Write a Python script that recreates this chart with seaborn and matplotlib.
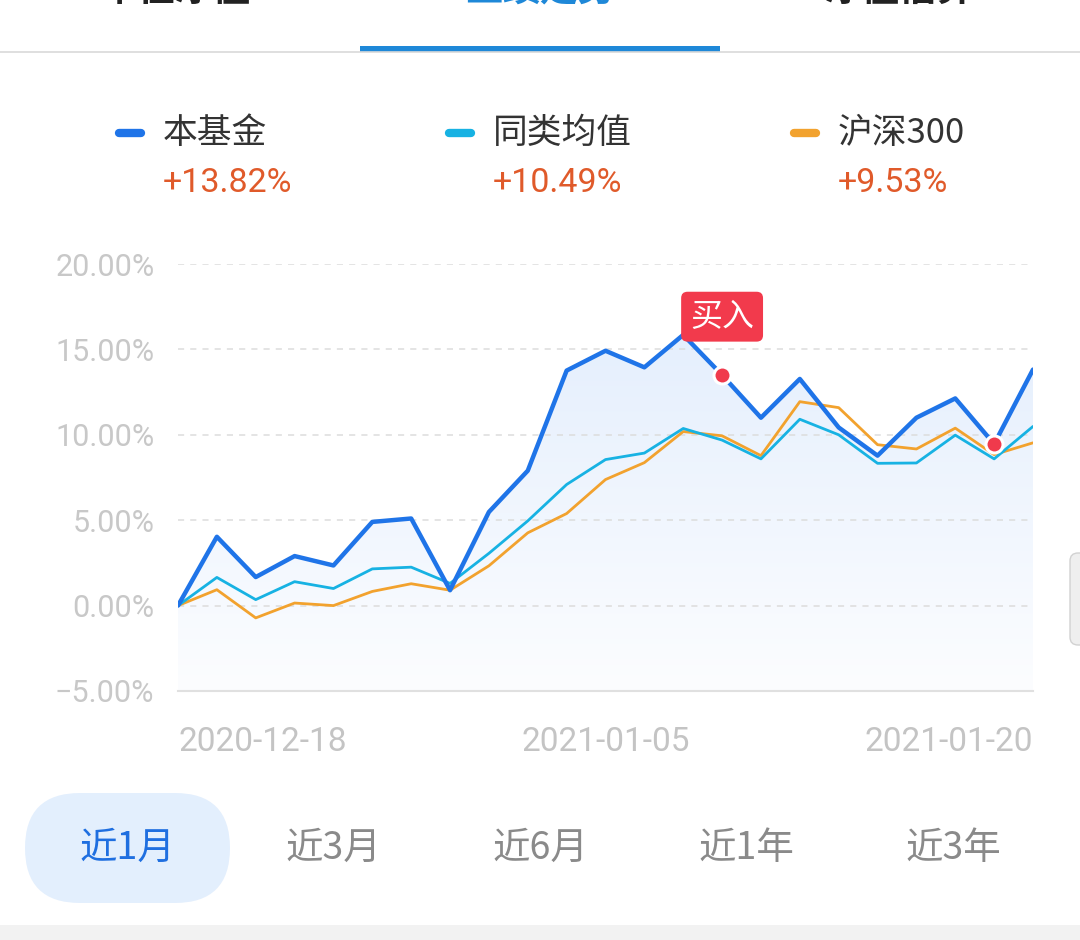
import numpy as np
import pandas as pd
import matplotlib
matplotlib.use("Agg")
import matplotlib.pyplot as plt
import seaborn as sns
from matplotlib.patches import FancyBboxPatch, Rectangle
from matplotlib.lines import Line2D
from matplotlib.colors import LinearSegmentedColormap

# ---------------- data ----------------
dates = ["2020-12-18", "2020-12-21", "2020-12-22", "2020-12-23", "2020-12-24",
         "2020-12-25", "2020-12-28", "2020-12-29", "2020-12-30", "2020-12-31",
         "2021-01-04", "2021-01-05", "2021-01-06", "2021-01-07", "2021-01-08",
         "2021-01-11", "2021-01-12", "2021-01-13", "2021-01-14", "2021-01-15",
         "2021-01-18", "2021-01-19", "2021-01-20"]
fund = [0.00, 4.03, 1.67, 2.90, 2.35, 4.90, 5.10, 0.90, 5.48, 7.90, 13.76, 14.92,
        13.95, 15.85, 13.50, 11.00, 13.27, 10.43, 8.78, 11.00, 12.13, 9.46, 13.82]
peer = [0.00, 1.65, 0.35, 1.40, 1.00, 2.15, 2.25, 1.30, 3.06, 4.96, 7.09, 8.55,
        8.93, 10.37, 9.69, 8.59, 10.91, 10.00, 8.33, 8.35, 9.98, 8.59, 10.49]
hs300 = [0.00, 0.93, -0.72, 0.15, 0.00, 0.83, 1.28, 0.90, 2.33, 4.26, 5.39, 7.38,
         8.37, 10.19, 9.94, 8.78, 11.94, 11.59, 9.42, 9.17, 10.39, 8.84, 9.53]

series_names = ["本基金", "同类均值", "沪深300"]
series_returns = ["+13.82%", "+10.49%", "+9.53%"]
series_colors = ["#1f74e8", "#17b2e3", "#f2a22e"]
y_ticks = [-5, 0, 5, 10, 15, 20]
x_tick_dates = ["2020-12-18", "2021-01-05", "2021-01-20"]
buy_dates = ["2021-01-08", "2021-01-19"]
buy_label = "买入"
buy_label_date = "2021-01-08"
range_buttons = ["近1月", "近3月", "近6月", "近1年", "近3年"]
top_tabs = ["单位净值", "业绩走势", "净值估算"]

# ---------------- style ----------------
sns.set_theme(style="white")
plt.rcParams["font.family"] = ["Noto Sans CJK SC", "DejaVu Sans"]
NUM_FONT = ["Roboto", "DejaVu Sans"]

df = pd.DataFrame({"date": dates, "idx": np.arange(len(dates)),
                   series_names[0]: fund, series_names[1]: peer, series_names[2]: hs300})
long = df.melt(id_vars=["date", "idx"], var_name="series", value_name="ret")

W, H = 1080, 940
fig = plt.figure(figsize=(W / 100, H / 100), dpi=100)
fig.patch.set_facecolor("white")

ax_l, ax_r, ax_t, ax_b = 178, 1033, 264, 691
ax = fig.add_axes([ax_l / W, 1 - ax_b / H, (ax_r - ax_l) / W, (ax_b - ax_t) / H])
ax.set_facecolor("white")

# gradient area under fund line
poly = ax.fill_between(df["idx"], df[series_names[0]], -5, color="none", lw=0)
grad = np.linspace(0, 1, 256).reshape(-1, 1)
cmap = LinearSegmentedColormap.from_list("g", ["#fcfdff", "#e5effd"])
im = ax.imshow(grad, extent=[df["idx"].min(), df["idx"].max(), -5, max(fund)],
               origin="lower", aspect="auto", cmap=cmap, zorder=1)
im.set_clip_path(poly.get_paths()[0], transform=ax.transData)

# lines (order: hs300, peer, fund on top)
widths = {series_names[0]: 3.2, series_names[1]: 2.0, series_names[2]: 2.0}
for name, color, z in zip(series_names[::-1], series_colors[::-1], [3, 4, 5]):
    sub = long[long["series"] == name]
    sns.lineplot(data=sub, x="idx", y="ret", color=color, lw=widths[name],
                 ax=ax, zorder=z, legend=False)

# buy markers
buy = df[df["date"].isin(buy_dates)]
sns.scatterplot(data=buy, x="idx", y=series_names[0], color="#f03a4c", s=150,
                edgecolor="white", linewidth=2.2, ax=ax, zorder=6, legend=False)
lab = df[df["date"] == buy_label_date].iloc[0]
ax.annotate(buy_label, xy=(lab["idx"], lab[series_names[0]]), xytext=(0, 42),
            textcoords="offset points", ha="center", va="center", color="white",
            fontsize=23, zorder=7,
            bbox=dict(boxstyle="round,pad=0.28,rounding_size=0.2", fc="#f23a4c", ec="none"))

# axes styling
ax.set_xlim(df["idx"].min(), df["idx"].max())
ax.set_ylim(min(y_ticks), max(y_ticks))
ax.set_yticks(y_ticks)
ax.set_yticklabels([f"{v:.2f}%".replace("-", "\u2212") for v in y_ticks],
                   fontfamily=NUM_FONT, fontsize=22, color="#c8c8c8")
ax.set_axisbelow("line")
ax.yaxis.grid(True, linestyle=(0, (4, 4)), color="#dcdcdc", linewidth=1.1)
ax.xaxis.grid(False)
tick_idx = [int(df.loc[df["date"] == d, "idx"].iloc[0]) for d in x_tick_dates]
ax.set_xticks(tick_idx)
ax.set_xticklabels(x_tick_dates, fontfamily=NUM_FONT, fontsize=24, color="#c4c4c4")
labels = ax.get_xticklabels()
labels[0].set_ha("left")
labels[-1].set_ha("right")
ax.set_xticks([df["idx"].min(), df["idx"].max()], minor=True)
ax.tick_params(axis="x", which="major", length=0, pad=25)
ax.tick_params(axis="x", which="minor", length=10, width=1.2, color="#dedede", direction="out")
ax.tick_params(axis="y", length=0, pad=17)
ax.set_xlabel("")
ax.set_ylabel("")
for s in ["left", "right", "top"]:
    ax.spines[s].set_visible(False)
ax.spines["bottom"].set_color("#e0e0e0")
ax.spines["bottom"].set_linewidth(1.5)

# ---------------- header / legend ----------------
def fy(py):
    return 1 - py / H

# top tabs (cut off at top, as in the reference screenshot)
tab_x = [175, 540, 900]
for t, x, c in zip(top_tabs, tab_x, ["#222222", "#1e88d8", "#222222"]):
    fig.text(x / W, fy(1), t, ha="center", va="baseline", fontsize=27, color=c,
             fontweight="bold")
fig.add_artist(Line2D([0, 1], [fy(52), fy(52)], color="#d9d9d9", lw=1.2))
fig.add_artist(Rectangle((360 / W, fy(52)), 360 / W, 6 / H, color="#1e88d8", lw=0))

leg_x = [115, 445, 790]
for name, ret, color, x in zip(series_names, series_returns, series_colors, leg_x):
    fig.add_artist(Line2D([(x + 4) / W, (x + 26) / W], [fy(133), fy(133)], color=color,
                          lw=6, solid_capstyle="round"))
    fig.text((x + 48) / W, fy(133), name, ha="left", va="center", fontsize=25,
             color="#333333")
    fig.text((x + 48) / W, fy(183), ret, ha="left", va="center", fontsize=24.5,
             color="#e05a2a", fontfamily=NUM_FONT)

# ---------------- range buttons ----------------
pill = FancyBboxPatch((0.25, (H - 903) / 100), 2.05, 1.10,
                      boxstyle="round,pad=0,rounding_size=0.55",
                      transform=fig.dpi_scale_trans, fc="#e3effd", ec="none")
fig.add_artist(pill)
btn_x = [127, 333, 540, 746, 953]
for i, (t, x) in enumerate(zip(range_buttons, btn_x)):
    fig.text(x / W, fy(848), t, ha="center", va="center", fontsize=27,
             color="#1f6fe0" if i == 0 else "#8a8a8a")

# bottom band and right scroll handle
fig.add_artist(Rectangle((0, 0), 1, 15 / H, color="#f2f2f2", lw=0))
handle = FancyBboxPatch((10.70, (H - 645) / 100), 0.3, 0.92,
                        boxstyle="round,pad=0,rounding_size=0.08",
                        transform=fig.dpi_scale_trans, fc="#efefef", ec="#d2d2d2", lw=1)
fig.add_artist(handle)

fig.savefig("out.png", dpi=100, facecolor="white")
